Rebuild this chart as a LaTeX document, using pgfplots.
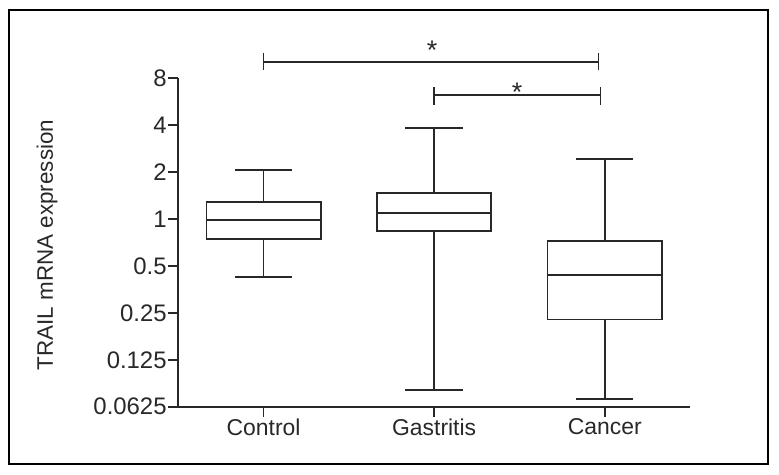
\documentclass[border=0pt]{standalone}
\usepackage{fontspec}
\setmainfont{Liberation Sans}
\usepackage{pgfplots}
\pgfplotsset{compat=1.18}
\usepgfplotslibrary{statistics}
\definecolor{inkc}{RGB}{40,40,40}
\begin{document}
\begin{tikzpicture}
\useasboundingbox (-178.3bp,-68.3bp) rectangle (600.7bp,406.7bp);
\begin{axis}[
  scale only axis,
  width=511.7bp, height=328.4bp,
  xmin=-0.5, xmax=2.5,
  ymin=-4, ymax=3,
  axis x line*=bottom, axis y line*=left,
  axis line style={inkc, line width=1.7bp},
  tick style={inkc, line width=1.7bp},
  major tick length=10bp,
  tick align=outside,
  xtick={0,1,2},
  xticklabels={Control,Gastritis,Cancer},
  ytick={-4,-3,-2,-1,0,1,2,3},
  yticklabels={0.0625,0.125,0.25,0.5,1,2,4,8},
  minor tick num=0,
  xticklabel style={inner sep=2bp, font=\fontsize{23}{26}\selectfont, text=inkc},
  yticklabel style={inner sep=1.5bp, font=\fontsize{24}{26}\selectfont, text=inkc},
  ylabel={TRAIL mRNA expression},
  ylabel style={at={(axis description cs:-0.2566,0.4924)}, anchor=center, text=inkc, font=\fontsize{22.5}{26}\selectfont},
  clip=false,
  boxplot/draw direction=y,
  boxplot/box extend=0.67,
  boxplot/whisker extend=0.337,
]
% values are log2 of TRAIL mRNA expression
\addplot[inkc, line width=1.7bp, boxplot prepared={draw position=0,
  lower whisker=-1.230, lower quartile=-0.420, median=-0.015,
  upper quartile=0.362, upper whisker=1.038}] coordinates {};
\addplot[inkc, line width=1.7bp, boxplot prepared={draw position=1,
  lower whisker=-3.640, lower quartile=-0.249, median=0.122,
  upper quartile=0.554, upper whisker=1.934}] coordinates {};
\addplot[inkc, line width=1.7bp, boxplot prepared={draw position=2,
  lower whisker=-3.832, lower quartile=-2.139, median=-1.194,
  upper quartile=-0.475, upper whisker=1.286}] coordinates {};
% significance brackets
\draw[inkc, line width=1.7bp] (axis cs:0,3.354) -- (axis cs:1.963,3.354);
\draw[inkc, line width=1.7bp] (axis cs:0,3.177) -- (axis cs:0,3.546);
\draw[inkc, line width=1.7bp] (axis cs:1.963,3.177) -- (axis cs:1.963,3.546);
\node[anchor=base, text=inkc, font=\fontsize{27}{28}\selectfont] at (axis cs:0.988,3.397) {*};
\draw[inkc, line width=1.7bp] (axis cs:1.0,2.644) -- (axis cs:1.975,2.644);
\draw[inkc, line width=1.7bp] (axis cs:1.0,2.431) -- (axis cs:1.0,2.821);
\draw[inkc, line width=1.7bp] (axis cs:1.975,2.431) -- (axis cs:1.975,2.821);
\node[anchor=base, text=inkc, font=\fontsize{27}{28}\selectfont] at (axis cs:1.487,2.507) {*};
\end{axis}
\draw[black, line width=2bp] (-169.6bp,397bp) rectangle (589.4bp,-57bp);
\end{tikzpicture}
\end{document}
